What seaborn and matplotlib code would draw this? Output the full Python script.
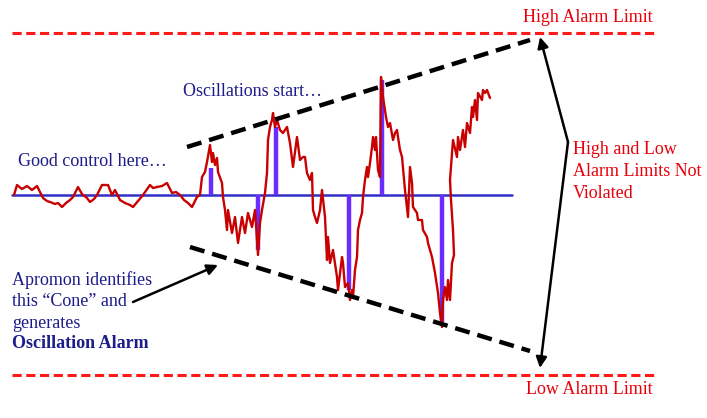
import matplotlib
matplotlib.use("Agg")
import matplotlib.pyplot as plt
import seaborn as sns
import numpy as np

sns.set_theme(style="white")
plt.rcParams['font.family'] = ['Liberation Serif', 'DejaVu Serif']

# Process signal (pixel-space coordinates; y grows downward)
signal_x = [14, 17, 22, 27, 32, 37, 43, 47, 50, 55, 58, 62, 66, 70, 73, 78, 82, 87, 90, 94, 97,
            102, 108, 112, 115, 120, 125, 130, 133, 138, 143, 150, 153, 157, 162, 167, 172, 176,
            180, 184, 188, 192, 197, 200, 202, 205, 207, 210, 212, 213, 215, 217, 218, 222, 223,
            225, 227, 228, 232, 235, 238, 242, 245, 248, 252, 255, 258, 260, 262, 265, 267, 268,
            270, 272, 273, 275, 277, 280, 283, 287, 290, 293, 297, 300, 303, 305, 307, 310, 312,
            313, 315, 317, 320, 322, 325, 327, 328, 330, 333, 337, 338, 342, 343, 345, 348, 350,
            352, 353, 355, 357, 358, 360, 362, 363, 365, 367, 368, 370, 372, 373, 375, 376, 378,
            380, 381, 383, 386, 388, 390, 393, 395, 397, 398, 400, 402, 405, 408, 410, 412, 413,
            417, 418, 422, 423, 427, 428, 432, 435, 438, 440, 442, 443, 445, 447, 448, 450, 452,
            454, 453, 451, 450, 453, 457, 458, 460, 463, 465, 467, 470, 472, 473, 475, 477, 478,
            482, 483, 485, 487, 490]
signal_y = [195, 185, 189, 186, 190, 186, 198, 201, 202, 204, 203, 207, 203, 200, 197, 187, 194,
            198, 202, 199, 195, 185, 185, 195, 190, 200, 203, 205, 207, 201, 195, 185, 188, 187,
            186, 183, 193, 192, 195, 200, 203, 207, 197, 195, 177, 172, 162, 145, 162, 153, 165,
            158, 172, 183, 197, 210, 230, 210, 233, 217, 243, 217, 233, 213, 227, 210, 255, 223,
            210, 193, 173, 140, 127, 120, 113, 127, 120, 130, 133, 127, 143, 167, 137, 160, 157,
            157, 173, 180, 173, 210, 217, 223, 210, 190, 217, 260, 237, 263, 250, 277, 290, 257,
            263, 287, 283, 300, 290, 297, 270, 257, 230, 220, 213, 197, 180, 167, 177, 163, 147,
            137, 150, 137, 170, 177, 77, 97, 117, 127, 123, 140, 133, 130, 137, 150, 157, 190, 217,
            167, 183, 207, 213, 220, 220, 230, 237, 243, 257, 273, 293, 313, 327, 300, 287, 300,
            280, 300, 263, 255, 230, 200, 180, 140, 157, 137, 150, 130, 147, 123, 133, 107, 117,
            100, 120, 93, 100, 90, 93, 90, 98]

# Oscillation deviation bars
bar_x = [211, 258, 276, 349, 382, 442]
bar_end = [168, 250, 127, 290, 80, 322]

setpoint_y = 195
setpoint_span = [12, 512]
high_limit_y = 33
low_limit_y = 375
limit_span = [12, 655]
cone_upper = ([187, 530], [147, 40])
cone_lower = ([190, 530], [247, 351])

fig = plt.figure(figsize=(7.07, 4.18), dpi=100)
ax = fig.add_axes([0, 0, 1, 1])
ax.set_xlim(0, 707)
ax.set_ylim(418, 0)
ax.axis('off')

red_text = '#e8000b'
blue_text = '#1c1c8a'

# alarm limits
ax.plot(limit_span, [high_limit_y] * 2, color='#ff1a1a', lw=2.2, dashes=(3, 1.5))
ax.plot(limit_span, [low_limit_y] * 2, color='#ff1a1a', lw=2.2, dashes=(3, 1.5))

# setpoint
ax.plot(setpoint_span, [setpoint_y] * 2, color='#3030c8', lw=1.8, zorder=2)

# bars
for bx, be in zip(bar_x, bar_end):
    ax.plot([bx, bx], [setpoint_y, be], color='#6a2cff', lw=3.2, solid_capstyle='butt', zorder=3)

# signal
sns.lineplot(x=signal_x, y=signal_y, sort=False, estimator=None, color='#c80000', lw=1.7, ax=ax, zorder=4)

# cone
ax.plot(*cone_upper, color='black', lw=3.2, dashes=(3.4, 1.8), zorder=5)
ax.plot(*cone_lower, color='black', lw=3.2, dashes=(3.4, 1.8), zorder=5)

# arrows
ap = dict(arrowstyle='-|>', color='black', lw=1.8, mutation_scale=16, shrinkA=0, shrinkB=0)
ax.annotate('', xy=(540, 37), xytext=(568, 142), arrowprops=ap)
ax.annotate('', xy=(540, 368), xytext=(568, 142), arrowprops=ap)
ax.annotate('', xy=(218, 265), xytext=(133, 302), arrowprops=ap)

fs = 13
ax.text(653, 18, 'High Alarm Limit', color=red_text, fontsize=fs, ha='right', va='center')
ax.text(653, 390, 'Low Alarm Limit', color=red_text, fontsize=fs, ha='right', va='center')
for i, line in enumerate(['High and Low', 'Alarm Limits Not', 'Violated']):
    ax.text(573, 149 + 22 * i, line, color=red_text, fontsize=fs, ha='left', va='center')
ax.text(18, 162, 'Good control here…', color=blue_text, fontsize=fs, ha='left', va='center')
ax.text(183, 91, 'Oscillations start…', color=blue_text, fontsize=fs, ha='left', va='center')
for i, line in enumerate(['Apromon identifies', 'this “Cone” and', 'generates']):
    ax.text(12, 280 + 22 * i, line, color=blue_text, fontsize=fs, ha='left', va='center')
ax.text(12, 344, 'Oscillation Alarm', color=blue_text, fontsize=fs, ha='left', va='center', fontweight='bold')

fig.savefig('out.png', dpi=100)
